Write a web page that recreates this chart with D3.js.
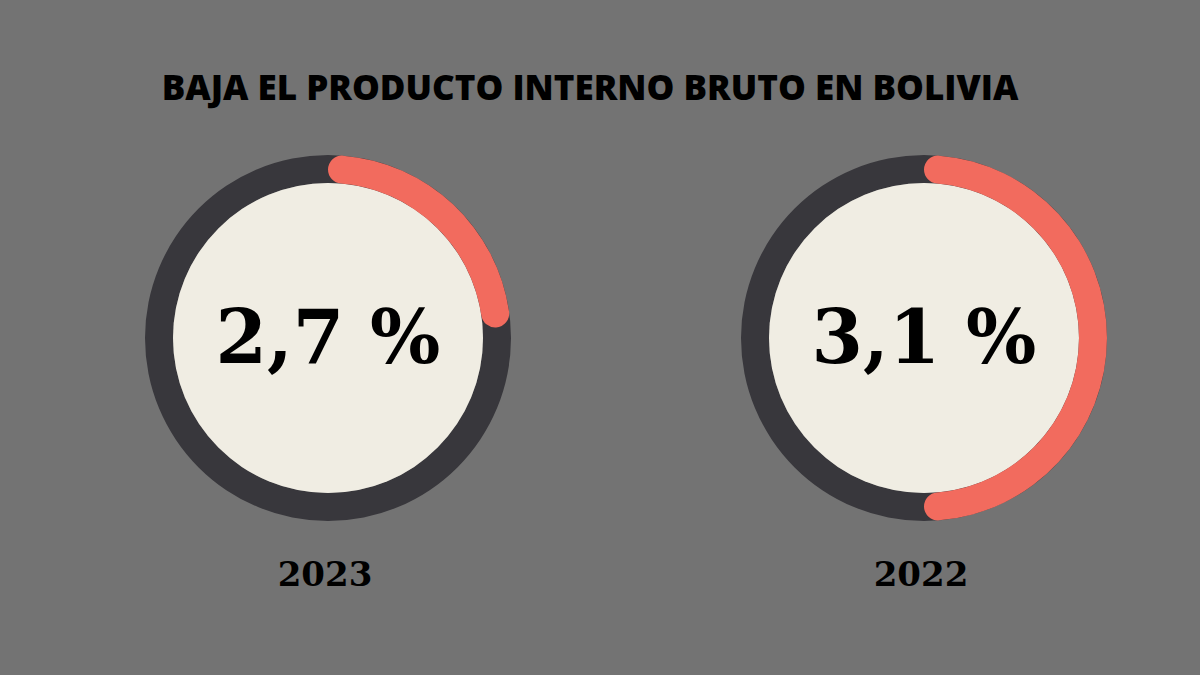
<!DOCTYPE html>
<html><head><meta charset="utf-8">
<script src="https://cdn.jsdelivr.net/npm/d3@7"></script>
<style>body{margin:0;background:#737373}</style></head>
<body><svg width="1200" height="675"></svg>
<script>
const years = ["2023", "2022"];
const values = ["2,7 %", "3,1 %"];
const arcShare = [0.24, 0.5];
const title = "BAJA  EL PRODUCTO INTERNO BRUTO EN BOLIVIA";

const svg = d3.select("svg");
svg.append("rect").attr("width",1200).attr("height",675).attr("fill","#737373");
svg.append("text").attr("x",590).attr("y",100).attr("text-anchor","middle")
  .attr("font-family","'Open Sans', sans-serif").attr("font-weight",800)
  .attr("font-size",35).attr("fill","#000").text(title);

const x = d3.scalePoint().domain(years).range([328, 924]);
const ang = d3.scaleLinear().domain([0,1]).range([0, 2*Math.PI]);
const cy = 338, R = 183, th = 28;
years.forEach((y,i)=>{
  const g = svg.append("g").attr("transform",`translate(${x(y)},${cy})`);
  g.append("path").attr("d", d3.arc()({innerRadius:R-th,outerRadius:R,startAngle:0,endAngle:2*Math.PI})).attr("fill","#38373c");
  g.append("circle").attr("r",R-th).attr("fill","#f0ede3");
  g.append("path").attr("d", d3.arc().cornerRadius(th/2)({innerRadius:R-th,outerRadius:R,startAngle:0,endAngle:ang(arcShare[i])})).attr("fill","#f26b5e");
  g.append("text").attr("y",25).attr("text-anchor","middle")
    .attr("font-family","'DejaVu Serif', serif").attr("font-weight","bold")
    .attr("font-size",74).attr("fill","#000").text(values[i]);
  svg.append("text").attr("x",x(y)-3).attr("y",586).attr("text-anchor","middle")
    .attr("font-family","'DejaVu Serif', serif").attr("font-weight","bold")
    .attr("font-size",34).attr("fill","#000").text(y);
});
</script></body></html>
